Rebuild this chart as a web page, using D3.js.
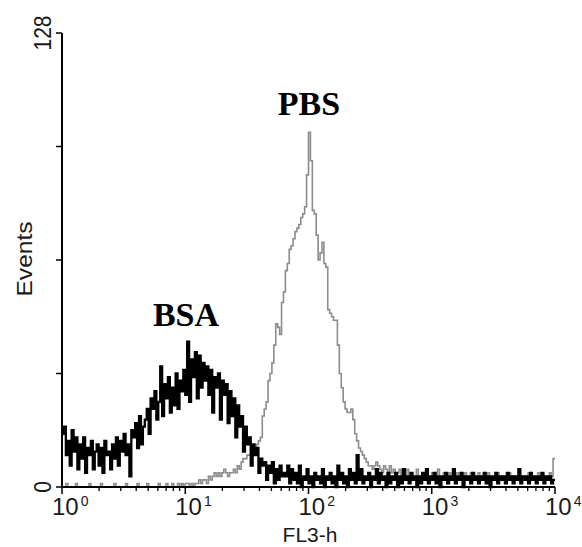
<!DOCTYPE html>
<html>
<head>
<meta charset="utf-8">
<script src="https://cdn.jsdelivr.net/npm/d3@7"></script>
<style>
  html, body { margin: 0; padding: 0; background: #fff; }
  svg { display: block; }
</style>
</head>
<body>
<svg id="chart" width="582" height="547"></svg>
<script>
// 256 log channels spanning 10^0 .. 10^4, counts
const bsaCounts = [
  15, 17, 9, 13, 6, 16, 10, 14, 5, 12,
  8, 14, 4, 11, 9, 13, 5, 10, 12, 6,
  11, 4, 13, 9, 10, 5, 12, 8, 14, 6,
  13, 10, 15, 9, 12, 3, 16, 14, 18, 11,
  20, 12, 17, 19, 22, 15, 25, 22, 27, 19,
  24, 34, 20, 29, 25, 31, 21, 28, 23, 32,
  22, 30, 27, 33, 26, 41, 24, 36, 31, 38,
  25, 37, 28, 35, 30, 34, 26, 33, 21, 31,
  28, 32, 19, 30, 26, 29, 18, 27, 20, 25,
  14, 23, 17, 20, 10, 17, 12, 14, 6, 12,
  9, 11, 4, 8, 6, 7, 2, 6, 4, 7,
  1, 5, 2, 6, 3, 4, 3, 6, 1, 5,
  2, 4, 1, 6, 0, 3, 2, 5, 1, 3,
  0, 4, 2, 3, 1, 5, 0, 3, 2, 4,
  1, 3, 0, 6, 2, 4, 1, 3, 0, 5,
  2, 4, 1, 9, 2, 5, 1, 3, 2, 4,
  0, 3, 2, 5, 1, 4, 2, 3, 0, 4,
  1, 3, 2, 4, 0, 3, 1, 5, 2, 3,
  1, 4, 2, 3, 0, 3, 1, 4, 2, 5,
  1, 3, 2, 4, 1, 3, 0, 3, 2, 4,
  1, 3, 2, 5, 1, 3, 2, 4, 0, 3,
  2, 3, 1, 4, 2, 3, 1, 3, 2, 4,
  1, 3, 0, 3, 2, 4, 1, 3, 2, 3,
  1, 4, 2, 3, 1, 3, 2, 5, 1, 3,
  2, 3, 1, 4, 2, 3, 1, 3, 2, 4,
  1, 3, 2, 3, 1, 2
];

const pbsCounts = [
  0, 0, 1, 0, 0, 0, 0, 1, 0, 0,
  0, 0, 0, 0, 1, 0, 0, 0, 0, 0,
  1, 0, 0, 0, 0, 0, 0, 1, 0, 0,
  0, 0, 0, 1, 0, 0, 0, 0, 0, 1,
  0, 0, 0, 0, 1, 0, 0, 0, 0, 0,
  1, 0, 0, 0, 1, 0, 0, 1, 0, 0,
  1, 0, 1, 0, 1, 1, 0, 1, 0, 1,
  1, 2, 1, 2, 2, 1, 3, 2, 3, 4,
  3, 4, 3, 4, 5, 4, 3, 4, 4, 5,
  4, 6, 5, 7, 8, 8, 9, 9, 10, 10,
  11, 12, 13, 14, 20, 22, 24, 30, 32, 35,
  40, 46, 45, 43, 52, 55, 61, 63, 67, 68,
  70, 72, 73, 74, 76, 77, 79, 88, 100, 92,
  78, 77, 71, 64, 66, 69, 63, 62, 50, 49,
  48, 47, 47, 40, 32, 28, 24, 22, 21, 21,
  22, 19, 15, 13, 11, 10, 9, 8, 7, 6,
  6, 5, 6, 7, 6, 5, 4, 6, 5, 3,
  6, 4, 5, 3, 4, 5, 3, 4, 2, 5,
  3, 4, 2, 3, 5, 3, 2, 4, 3, 5,
  2, 3, 4, 2, 3, 5, 3, 2, 4, 3,
  2, 4, 3, 2, 3, 4, 2, 3, 2, 4,
  3, 2, 4, 3, 2, 3, 4, 2, 3, 3,
  2, 4, 3, 2, 3, 2, 4, 3, 2, 3,
  3, 2, 4, 3, 2, 3, 3, 4, 2, 3,
  2, 3, 4, 2, 3, 2, 3, 4, 2, 3,
  3, 2, 3, 4, 3, 8
];

const xDecades = [0, 1, 2, 3, 4];
const yTicks = [0, 32, 64, 96, 128];
const yTickLabels = { 0: '0', 128: '128' };
const channels = 256;

const svg = d3.select('#chart');

const x = d3.scaleLog().domain([1, 10000]).range([62, 555]);
const y = d3.scaleLinear().domain([0, 128]).range([487, 33]);

const chToValue = ch => Math.pow(10, ch * 4 / channels);

function stepPoints(counts) {
  const pts = counts.map((c, i) => [chToValue(i), c]);
  pts.push([chToValue(counts.length), counts[counts.length - 1]]);
  return pts;
}

const line = d3.line()
  .x(d => x(d[0]))
  .y(d => y(d[1]))
  .curve(d3.curveStepAfter);

// Histograms — grey PBS below, black BSA on top
svg.append('path')
  .attr('d', line(stepPoints(pbsCounts)))
  .attr('fill', 'none')
  .attr('stroke', '#8c8c8c')
  .attr('stroke-width', 1.6);

svg.append('path')
  .attr('d', line(stepPoints(bsaCounts)))
  .attr('fill', 'none')
  .attr('stroke', '#000')
  .attr('stroke-width', 2.3);

// Y axis
svg.append('line')
  .attr('x1', 62).attr('x2', 62)
  .attr('y1', y(128)).attr('y2', y(0))
  .attr('stroke', '#000').attr('stroke-width', 2);

svg.selectAll('.ytick')
  .data(yTicks).enter().append('line')
  .attr('x1', 56).attr('x2', 62)
  .attr('y1', d => y(d)).attr('y2', d => y(d))
  .attr('stroke', '#000').attr('stroke-width', 1.5);

svg.selectAll('.ylab')
  .data(yTicks.filter(d => yTickLabels[d] !== undefined)).enter().append('text')
  .attr('transform', d => `translate(51,${y(d)}) rotate(-90)`)
  .attr('text-anchor', 'middle')
  .attr('font-family', 'Liberation Sans, Arial, sans-serif')
  .attr('font-size', '24px')
  .attr('fill', '#1a1a1a')
  .attr('textLength', d => yTickLabels[d].length * 11.7)
  .attr('lengthAdjust', 'spacingAndGlyphs')
  .text(d => yTickLabels[d]);

svg.append('text')
  .attr('transform', 'translate(32,259) rotate(-90)')
  .attr('text-anchor', 'middle')
  .attr('font-family', 'Liberation Sans, Arial, sans-serif')
  .attr('font-size', '22px')
  .attr('fill', '#1a1a1a')
  .attr('textLength', 75)
  .attr('lengthAdjust', 'spacingAndGlyphs')
  .text('Events');

// X axis
svg.append('line')
  .attr('x1', x(1)).attr('x2', x(10000))
  .attr('y1', 487).attr('y2', 487)
  .attr('stroke', '#000').attr('stroke-width', 2);

const minor = [];
xDecades.slice(0, -1).forEach(p => { for (let k = 2; k <= 9; k++) minor.push(k * Math.pow(10, p)); });

svg.selectAll('.xminor')
  .data(minor).enter().append('line')
  .attr('x1', d => x(d)).attr('x2', d => x(d))
  .attr('y1', 487).attr('y2', 491)
  .attr('stroke', '#000').attr('stroke-width', 1.3);

svg.selectAll('.xmajor')
  .data(xDecades).enter().append('line')
  .attr('x1', d => x(Math.pow(10, d))).attr('x2', d => x(Math.pow(10, d)))
  .attr('y1', 487).attr('y2', 494)
  .attr('stroke', '#000').attr('stroke-width', 1.5);

const xLab = svg.selectAll('.xlab')
  .data(xDecades).enter().append('text')
  .attr('x', d => x(Math.pow(10, d)) - 10)
  .attr('y', 515)
  .attr('font-family', 'Liberation Sans, Arial, sans-serif')
  .attr('font-size', '24px')
  .attr('fill', '#1a1a1a');
xLab.append('tspan').text('10');
xLab.append('tspan')
  .attr('dx', 2).attr('dy', -9)
  .attr('font-size', '14px')
  .text(d => d);

svg.append('text')
  .attr('x', 310).attr('y', 542)
  .attr('text-anchor', 'middle')
  .attr('font-family', 'Liberation Sans, Arial, sans-serif')
  .attr('font-size', '21px')
  .attr('fill', '#1a1a1a')
  .text('FL3-h');

// Series labels
svg.append('text')
  .attr('x', 309).attr('y', 115)
  .attr('text-anchor', 'middle')
  .attr('font-family', 'Liberation Serif, Times New Roman, serif')
  .attr('font-weight', 'bold')
  .attr('font-size', '34px')
  .attr('fill', '#000')
  .text('PBS');

svg.append('text')
  .attr('x', 186).attr('y', 326)
  .attr('text-anchor', 'middle')
  .attr('font-family', 'Liberation Serif, Times New Roman, serif')
  .attr('font-weight', 'bold')
  .attr('font-size', '34px')
  .attr('fill', '#000')
  .text('BSA');
</script>
</body>
</html>
